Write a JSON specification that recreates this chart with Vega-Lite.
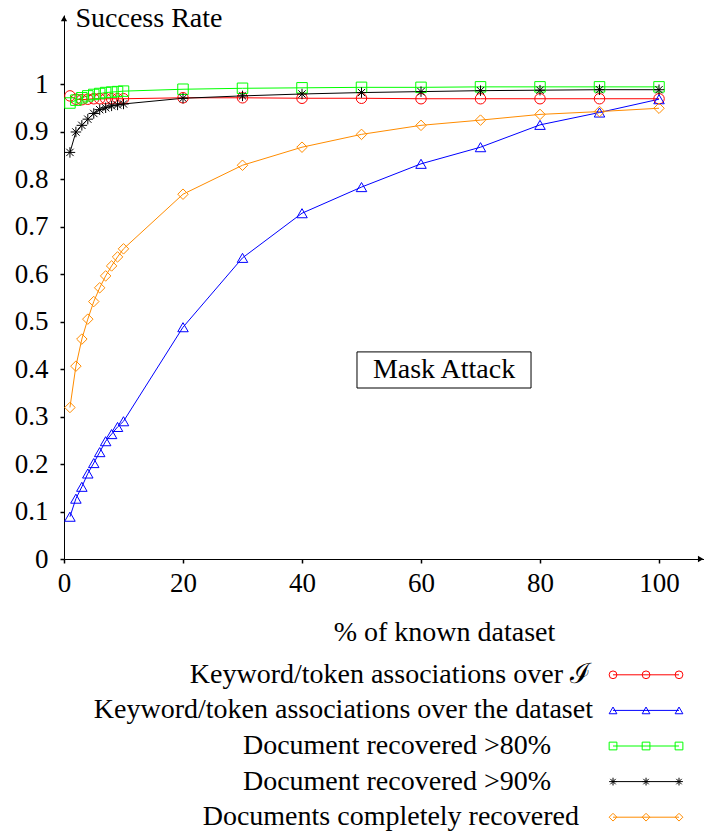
{
  "$schema": "https://vega.github.io/schema/vega-lite/v6.json",
  "padding": {"left": 14, "top": 4, "right": 0, "bottom": 0},
  "config": {
    "view": {"stroke": null},
    "font": "Liberation Serif",
    "legend": {"disable": true},
    "text": {"font": "Liberation Serif"},
    "axis": {
      "domainColor": "#000", "tickColor": "#000", "labelColor": "#000", "titleColor": "#000",
      "labelFont": "Liberation Serif", "titleFont": "Liberation Serif",
      "labelFontSize": 27, "titleFontSize": 28, "titleFontWeight": "normal",
      "grid": false, "tickSize": 4, "domainWidth": 1, "tickWidth": 1.5
    }
  },
  "datasets": {
    "results": [
      {"x": 1, "rate": 0.975, "series": "I"}, {"x": 2, "rate": 0.968, "series": "I"}, {"x": 3, "rate": 0.967, "series": "I"}, {"x": 4, "rate": 0.968, "series": "I"}, {"x": 5, "rate": 0.969, "series": "I"}, {"x": 6, "rate": 0.969, "series": "I"}, {"x": 7, "rate": 0.969, "series": "I"}, {"x": 8, "rate": 0.969, "series": "I"}, {"x": 9, "rate": 0.969, "series": "I"}, {"x": 10, "rate": 0.969, "series": "I"},
      {"x": 20, "rate": 0.971, "series": "I"}, {"x": 30, "rate": 0.971, "series": "I"}, {"x": 40, "rate": 0.970, "series": "I"}, {"x": 50, "rate": 0.970, "series": "I"}, {"x": 60, "rate": 0.969, "series": "I"}, {"x": 70, "rate": 0.969, "series": "I"}, {"x": 80, "rate": 0.969, "series": "I"}, {"x": 90, "rate": 0.969, "series": "I"}, {"x": 100, "rate": 0.969, "series": "I"},
      {"x": 1, "rate": 0.089, "series": "dataset"}, {"x": 2, "rate": 0.127, "series": "dataset"}, {"x": 3, "rate": 0.152, "series": "dataset"}, {"x": 4, "rate": 0.180, "series": "dataset"}, {"x": 5, "rate": 0.202, "series": "dataset"}, {"x": 6, "rate": 0.225, "series": "dataset"}, {"x": 7, "rate": 0.248, "series": "dataset"}, {"x": 8, "rate": 0.263, "series": "dataset"}, {"x": 9, "rate": 0.278, "series": "dataset"}, {"x": 10, "rate": 0.290, "series": "dataset"},
      {"x": 20, "rate": 0.488, "series": "dataset"}, {"x": 30, "rate": 0.634, "series": "dataset"}, {"x": 40, "rate": 0.728, "series": "dataset"}, {"x": 50, "rate": 0.783, "series": "dataset"}, {"x": 60, "rate": 0.832, "series": "dataset"}, {"x": 70, "rate": 0.867, "series": "dataset"}, {"x": 80, "rate": 0.914, "series": "dataset"}, {"x": 90, "rate": 0.940, "series": "dataset"}, {"x": 100, "rate": 0.968, "series": "dataset"},
      {"x": 1, "rate": 0.960, "series": "80"}, {"x": 2, "rate": 0.966, "series": "80"}, {"x": 3, "rate": 0.971, "series": "80"}, {"x": 4, "rate": 0.975, "series": "80"}, {"x": 5, "rate": 0.978, "series": "80"}, {"x": 6, "rate": 0.980, "series": "80"}, {"x": 7, "rate": 0.982, "series": "80"}, {"x": 8, "rate": 0.983, "series": "80"}, {"x": 9, "rate": 0.984, "series": "80"}, {"x": 10, "rate": 0.985, "series": "80"},
      {"x": 20, "rate": 0.989, "series": "80"}, {"x": 30, "rate": 0.991, "series": "80"}, {"x": 40, "rate": 0.992, "series": "80"}, {"x": 50, "rate": 0.993, "series": "80"}, {"x": 60, "rate": 0.993, "series": "80"}, {"x": 70, "rate": 0.994, "series": "80"}, {"x": 80, "rate": 0.994, "series": "80"}, {"x": 90, "rate": 0.994, "series": "80"}, {"x": 100, "rate": 0.994, "series": "80"},
      {"x": 1, "rate": 0.856, "series": "90"}, {"x": 2, "rate": 0.899, "series": "90"}, {"x": 3, "rate": 0.913, "series": "90"}, {"x": 4, "rate": 0.926, "series": "90"}, {"x": 5, "rate": 0.938, "series": "90"}, {"x": 6, "rate": 0.946, "series": "90"}, {"x": 7, "rate": 0.950, "series": "90"}, {"x": 8, "rate": 0.954, "series": "90"}, {"x": 9, "rate": 0.956, "series": "90"}, {"x": 10, "rate": 0.958, "series": "90"},
      {"x": 20, "rate": 0.970, "series": "90"}, {"x": 30, "rate": 0.975, "series": "90"}, {"x": 40, "rate": 0.979, "series": "90"}, {"x": 50, "rate": 0.982, "series": "90"}, {"x": 60, "rate": 0.984, "series": "90"}, {"x": 70, "rate": 0.986, "series": "90"}, {"x": 80, "rate": 0.987, "series": "90"}, {"x": 90, "rate": 0.988, "series": "90"}, {"x": 100, "rate": 0.988, "series": "90"},
      {"x": 1, "rate": 0.319, "series": "complete"}, {"x": 2, "rate": 0.406, "series": "complete"}, {"x": 3, "rate": 0.463, "series": "complete"}, {"x": 4, "rate": 0.505, "series": "complete"}, {"x": 5, "rate": 0.542, "series": "complete"}, {"x": 6, "rate": 0.571, "series": "complete"}, {"x": 7, "rate": 0.596, "series": "complete"}, {"x": 8, "rate": 0.617, "series": "complete"}, {"x": 9, "rate": 0.636, "series": "complete"}, {"x": 10, "rate": 0.653, "series": "complete"},
      {"x": 20, "rate": 0.768, "series": "complete"}, {"x": 30, "rate": 0.829, "series": "complete"}, {"x": 40, "rate": 0.867, "series": "complete"}, {"x": 50, "rate": 0.894, "series": "complete"}, {"x": 60, "rate": 0.913, "series": "complete"}, {"x": 70, "rate": 0.924, "series": "complete"}, {"x": 80, "rate": 0.936, "series": "complete"}, {"x": 90, "rate": 0.942, "series": "complete"}, {"x": 100, "rate": 0.949, "series": "complete"}
    ],
    "legendRows": [
      {"series": "I", "label": "Keyword/token associations over ℐ"},
      {"series": "dataset", "label": "Keyword/token associations over the dataset"},
      {"series": "80", "label": "Document recovered >80%"},
      {"series": "90", "label": "Document recovered >90%"},
      {"series": "complete", "label": "Documents completely recovered"}
    ]
  },
  "resolve": {"scale": {"x": "independent", "y": "independent"}},
  "spacing": 98,
  "bounds": "flush",
  "vconcat": [
    {
      "width": 640,
      "height": 544,
      "layer": [
        {
          "data": {"name": "results"},
          "mark": {"type": "line", "strokeWidth": 1},
          "encoding": {
            "x": {"field": "x", "type": "quantitative", "scale": {"domain": [0, 107.56], "nice": false, "zero": false},
              "axis": {"values": [0, 20, 40, 60, 80, 100], "title": "% of known dataset", "titleX": 380, "titleY": 73, "titleBaseline": "middle", "titleAlign": "center", "labelPadding": 20, "labelBaseline": "middle", "labelFlush": false}},
            "y": {"field": "rate", "type": "quantitative", "scale": {"domain": [0, 1.1453], "nice": false},
              "axis": {"values": [0, 0.1, 0.2, 0.3, 0.4, 0.5, 0.6, 0.7, 0.8, 0.9, 1], "format": "~g", "title": "Success Rate", "titleAngle": 0, "titleX": 11, "titleY": 3, "titleAlign": "left", "titleBaseline": "middle", "labelPadding": 12, "labelFlush": false}},
            "color": {"field": "series", "type": "nominal", "scale": {"domain": ["I", "dataset", "80", "90", "complete"], "range": ["#ff0000", "#0000ff", "#00ff00", "#000000", "#ff8c00"]}, "legend": null},
            "order": {"field": "x", "type": "quantitative"}
          }
        },
        {
          "data": {"name": "results"},
          "mark": {"type": "point", "filled": false, "size": 110, "strokeWidth": 1, "opacity": 1},
          "encoding": {
            "x": {"field": "x", "type": "quantitative"},
            "y": {"field": "rate", "type": "quantitative"},
            "color": {"field": "series", "type": "nominal", "scale": {"domain": ["I", "dataset", "80", "90", "complete"], "range": ["#ff0000", "#0000ff", "#00ff00", "#000000", "#ff8c00"]}, "legend": null},
            "shape": {"field": "series", "type": "nominal", "scale": {"domain": ["I", "dataset", "80", "90", "complete"], "range": ["circle", "triangle-up", "square", "M-1,0L1,0M0,-1L0,1M-0.7,-0.7L0.7,0.7M-0.7,0.7L0.7,-0.7", "diamond"]}, "legend": null}
          }
        },
        {
          "data": {"values": [{}]},
          "mark": {"type": "rect", "fill": null, "stroke": "#000", "strokeWidth": 1},
          "encoding": {
            "x": {"datum": 49.24, "type": "quantitative"}, "x2": {"datum": 78.49},
            "y": {"datum": 0.36, "type": "quantitative"}, "y2": {"datum": 0.436}
          }
        },
        {
          "data": {"values": [{"note": "Mask Attack"}]},
          "mark": {"type": "text", "fontSize": 28, "align": "center", "baseline": "middle", "color": "#000"},
          "encoding": {
            "x": {"datum": 63.87, "type": "quantitative"},
            "y": {"datum": 0.398, "type": "quantitative"},
            "text": {"field": "note"}
          }
        },
        {
          "data": {"values": [{}]},
          "mark": {"type": "point", "shape": "triangle-up", "filled": true, "color": "#000", "size": 40, "opacity": 1},
          "encoding": {"x": {"datum": 0, "type": "quantitative"}, "y": {"datum": 1.138, "type": "quantitative"}}
        },
        {
          "data": {"values": [{}]},
          "mark": {"type": "point", "shape": "triangle-right", "filled": true, "color": "#000", "size": 40, "opacity": 1},
          "encoding": {"x": {"datum": 107.0, "type": "quantitative"}, "y": {"datum": 0, "type": "quantitative"}}
        }
      ]
    },
    {
      "width": 640,
      "height": 178,
      "data": {"name": "legendRows"},
      "layer": [
        {
          "mark": {"type": "rule", "strokeWidth": 1},
          "encoding": {
            "x": {"datum": 92.27, "type": "quantitative", "scale": {"domain": [0, 107.56], "nice": false, "zero": false}, "axis": null},
            "x2": {"datum": 103.36},
            "y": {"field": "series", "type": "nominal", "scale": {"type": "point", "domain": ["I", "dataset", "80", "90", "complete"], "padding": 0.5}, "axis": null},
            "color": {"field": "series", "type": "nominal", "scale": {"domain": ["I", "dataset", "80", "90", "complete"], "range": ["#ff0000", "#0000ff", "#00ff00", "#000000", "#ff8c00"]}, "legend": null}
          }
        },
        {
          "mark": {"type": "point", "filled": false, "size": 60, "strokeWidth": 1, "opacity": 1},
          "encoding": {
            "x": {"datum": 92.27, "type": "quantitative", "scale": {"domain": [0, 107.56], "nice": false, "zero": false}, "axis": null},
            "y": {"field": "series", "type": "nominal", "scale": {"type": "point", "domain": ["I", "dataset", "80", "90", "complete"], "padding": 0.5}, "axis": null},
            "color": {"field": "series", "type": "nominal", "legend": null},
            "shape": {"field": "series", "type": "nominal", "scale": {"domain": ["I", "dataset", "80", "90", "complete"], "range": ["circle", "triangle-up", "square", "M-1,0L1,0M0,-1L0,1M-0.7,-0.7L0.7,0.7M-0.7,0.7L0.7,-0.7", "diamond"]}, "legend": null}
          }
        },
        {
          "mark": {"type": "point", "filled": false, "size": 60, "strokeWidth": 1, "opacity": 1},
          "encoding": {
            "x": {"datum": 97.82, "type": "quantitative", "scale": {"domain": [0, 107.56], "nice": false, "zero": false}, "axis": null},
            "y": {"field": "series", "type": "nominal", "axis": null},
            "color": {"field": "series", "type": "nominal", "legend": null},
            "shape": {"field": "series", "type": "nominal", "legend": null}
          }
        },
        {
          "mark": {"type": "point", "filled": false, "size": 60, "strokeWidth": 1, "opacity": 1},
          "encoding": {
            "x": {"datum": 103.36, "type": "quantitative", "scale": {"domain": [0, 107.56], "nice": false, "zero": false}, "axis": null},
            "y": {"field": "series", "type": "nominal", "axis": null},
            "color": {"field": "series", "type": "nominal", "legend": null},
            "shape": {"field": "series", "type": "nominal", "legend": null}
          }
        },
        {
          "transform": [{"filter": "datum.series === 'I'"}],
          "mark": {"type": "text", "align": "right", "baseline": "middle", "fontSize": 28, "color": "#000"},
          "encoding": {
            "x": {"datum": 88.57, "type": "quantitative", "scale": {"domain": [0, 107.56], "nice": false, "zero": false}, "axis": null},
            "y": {"field": "series", "type": "nominal", "axis": null},
            "text": {"field": "label"}
          }
        },
        {
          "transform": [{"filter": "datum.series === 'dataset'"}],
          "mark": {"type": "text", "align": "right", "baseline": "middle", "fontSize": 28, "color": "#000"},
          "encoding": {
            "x": {"datum": 88.9, "type": "quantitative", "scale": {"domain": [0, 107.56], "nice": false, "zero": false}, "axis": null},
            "y": {"field": "series", "type": "nominal", "axis": null},
            "text": {"field": "label"}
          }
        },
        {
          "transform": [{"filter": "datum.series === '80' || datum.series === '90'"}],
          "mark": {"type": "text", "align": "right", "baseline": "middle", "fontSize": 28, "color": "#000"},
          "encoding": {
            "x": {"datum": 81.85, "type": "quantitative", "scale": {"domain": [0, 107.56], "nice": false, "zero": false}, "axis": null},
            "y": {"field": "series", "type": "nominal", "axis": null},
            "text": {"field": "label"}
          }
        },
        {
          "transform": [{"filter": "datum.series === 'complete'"}],
          "mark": {"type": "text", "align": "right", "baseline": "middle", "fontSize": 28, "color": "#000"},
          "encoding": {
            "x": {"datum": 86.55, "type": "quantitative", "scale": {"domain": [0, 107.56], "nice": false, "zero": false}, "axis": null},
            "y": {"field": "series", "type": "nominal", "axis": null},
            "text": {"field": "label"}
          }
        }
      ]
    }
  ]
}
